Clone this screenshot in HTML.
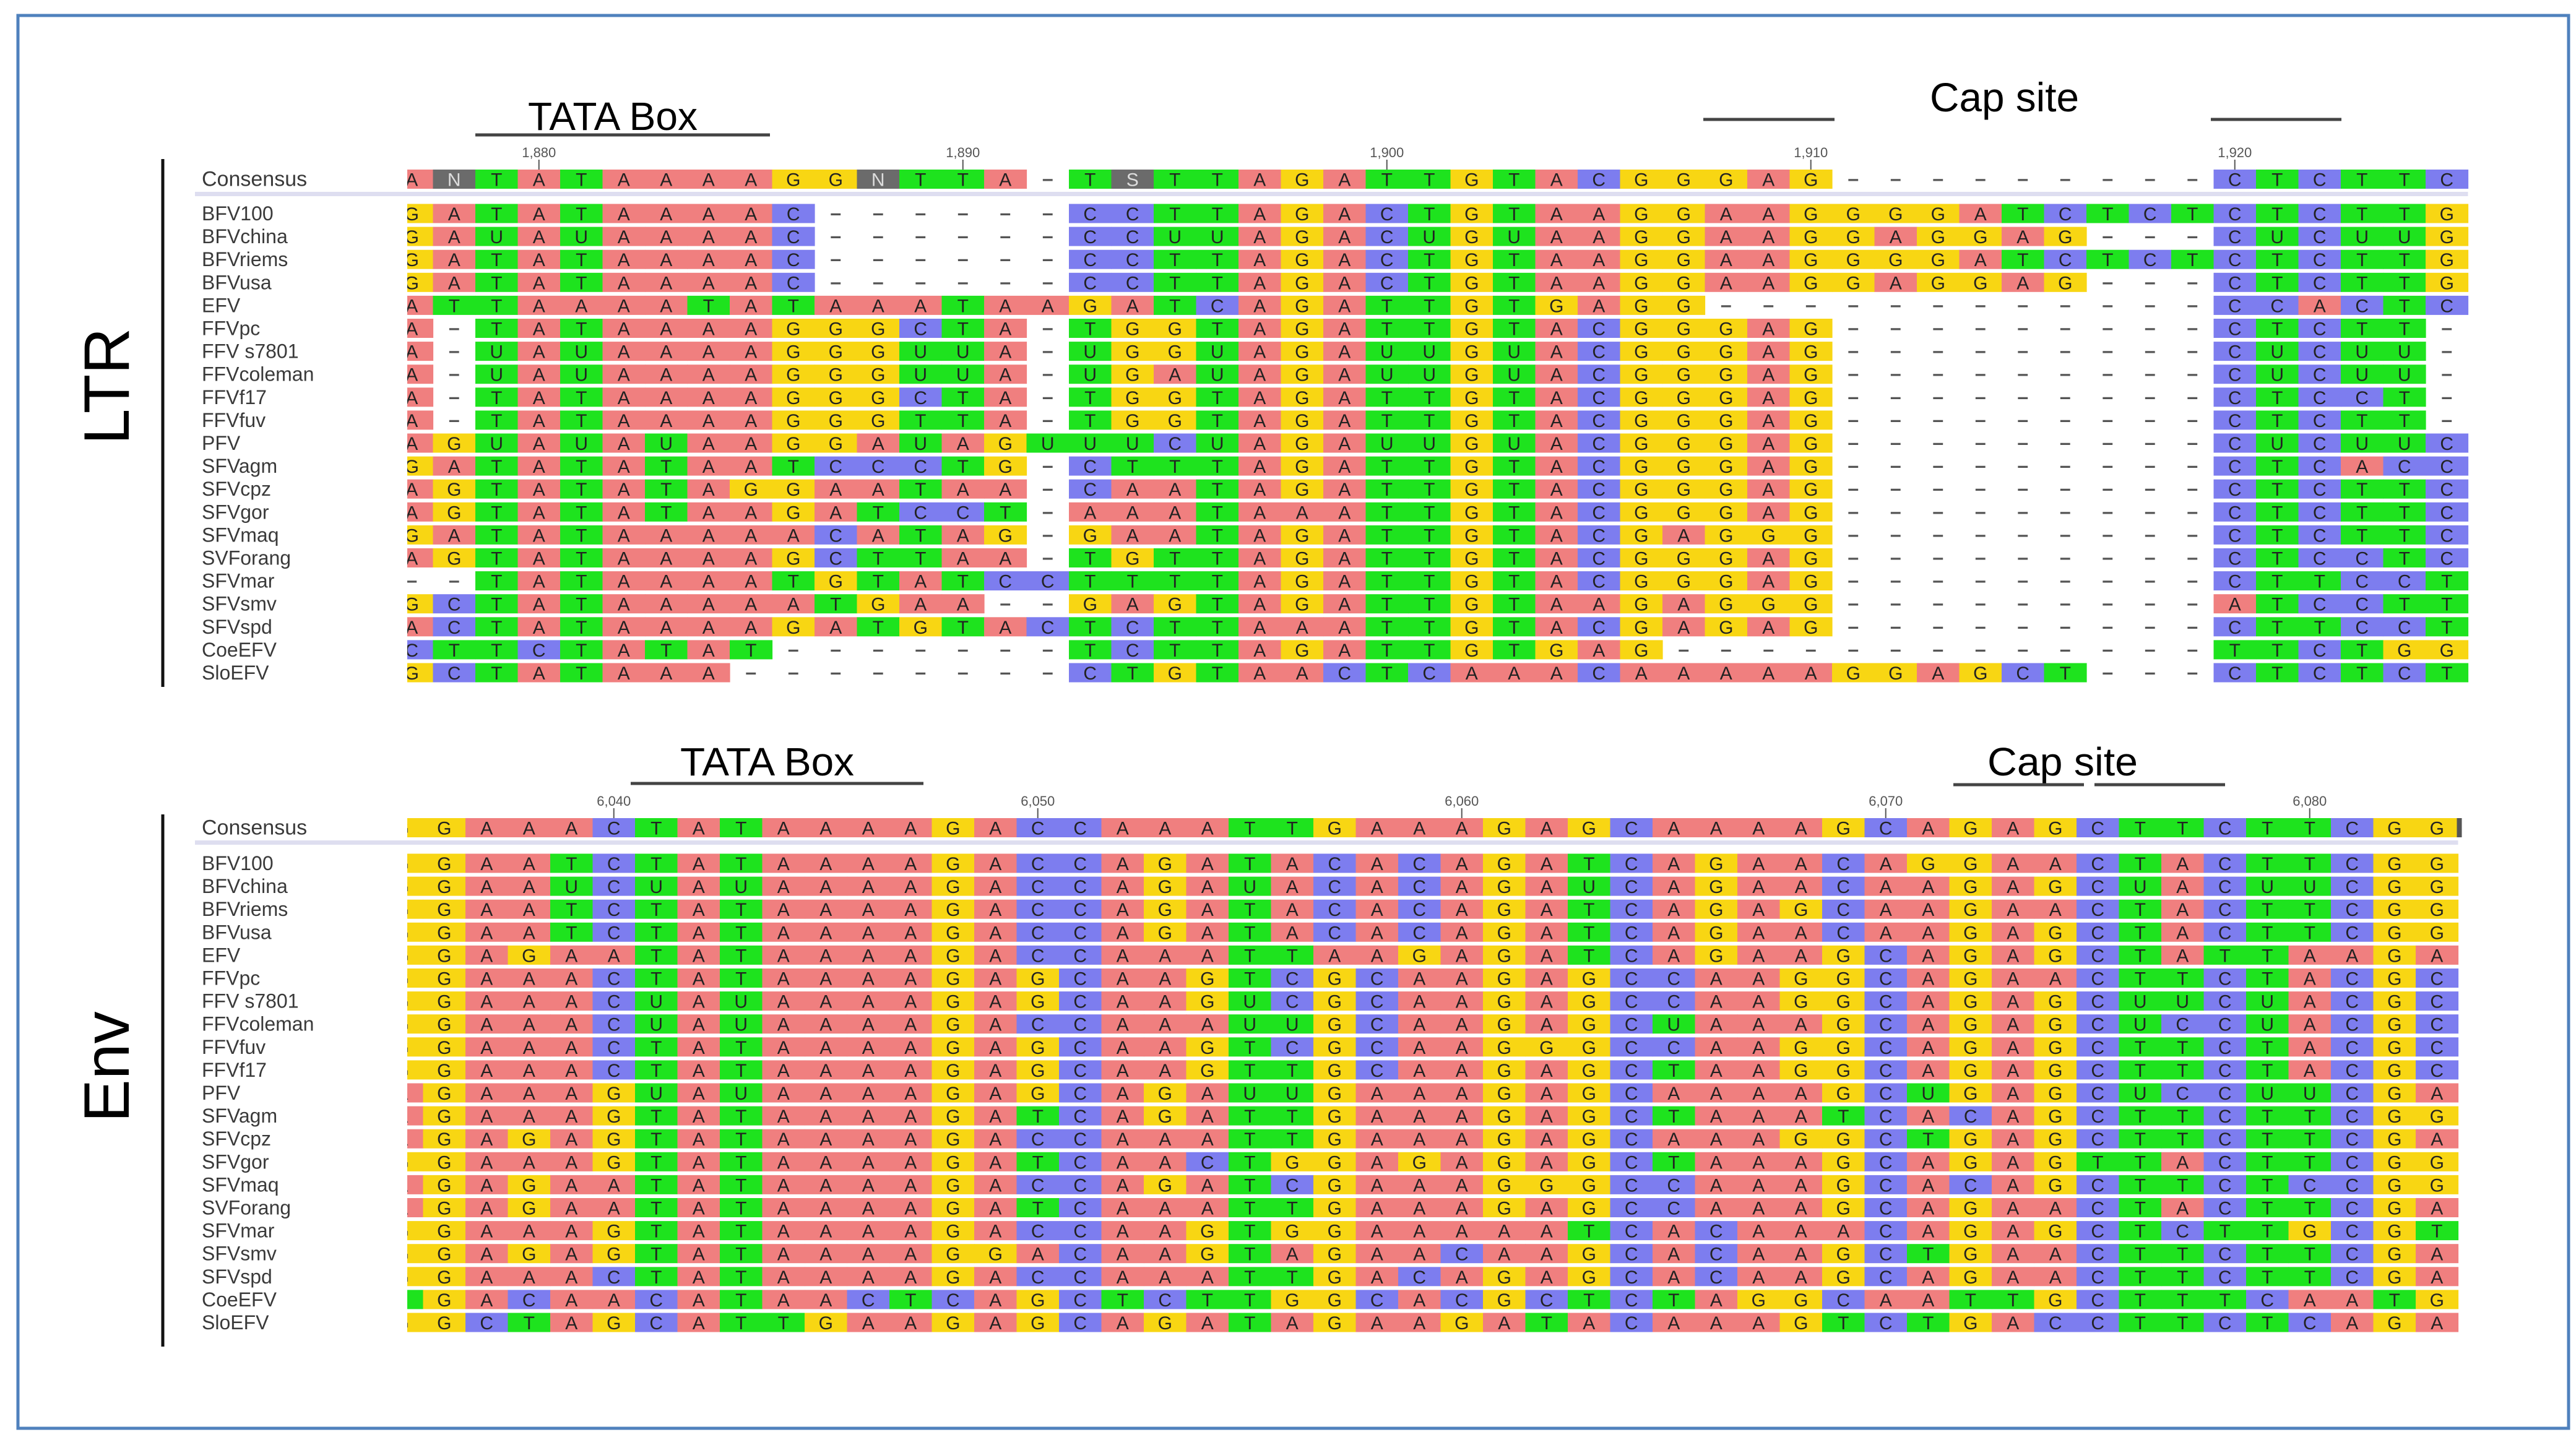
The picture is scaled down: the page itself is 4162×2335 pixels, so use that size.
<!DOCTYPE html>
<html><head><meta charset="utf-8"><title>Alignment</title>
<style>html,body{margin:0;padding:0;background:#fff}svg{display:block}</style></head>
<body>
<svg id="fig" xmlns="http://www.w3.org/2000/svg" width="4162" height="2335" viewBox="0 0 4162 2335">
<rect x="0" y="0" width="4162" height="2335" fill="#fff"/>
<rect x="29" y="25" width="4121" height="2283" fill="none" stroke="#4f81bd" stroke-width="5"/>
<defs><clipPath id="clipA"><rect x="658" y="0" width="3340" height="2335"/></clipPath></defs>
<g id="ltr"></g>
<g id="env"></g>
</svg>
<script>
const ltrNames = ["BFV100","BFVchina","BFVriems","BFVusa","EFV","FFVpc","FFV s7801","FFVcoleman","FFVf17","FFVfuv","PFV","SFVagm","SFVcpz","SFVgor","SFVmaq","SVForang","SFVmar","SFVsmv","SFVspd","CoeEFV","SloEFV"];
const ltrConsensus = "ANTATAAAAGGNTTA-TSTTAGATTGTACGGGAG---------CTCTTC";
const ltrSeqs = [
"GATATAAAAC------CCTTAGACTGTAAGGAAGGGGATCTCTCTCTTG",
"GAUAUAAAAC------CCUUAGACUGUAAGGAAGGAGGAG---CUCUUG",
"GATATAAAAC------CCTTAGACTGTAAGGAAGGGGATCTCTCTCTTG",
"GATATAAAAC------CCTTAGACTGTAAGGAAGGAGGAG---CTCTTG",
"ATTAAAATATAAATAAGATCAGATTGTGAGG------------CCACTC",
"A-TATAAAAGGGCTA-TGGTAGATTGTACGGGAG---------CTCTT-",
"A-UAUAAAAGGGUUA-UGGUAGAUUGUACGGGAG---------CUCUU-",
"A-UAUAAAAGGGUUA-UGAUAGAUUGUACGGGAG---------CUCUU-",
"A-TATAAAAGGGCTA-TGGTAGATTGTACGGGAG---------CTCCT-",
"A-TATAAAAGGGTTA-TGGTAGATTGTACGGGAG---------CTCTT-",
"AGUAUAUAAGGAUAGUUUCUAGAUUGUACGGGAG---------CUCUUC",
"GATATATAATCCCTG-CTTTAGATTGTACGGGAG---------CTCACC",
"AGTATATAGGAATAA-CAATAGATTGTACGGGAG---------CTCTTC",
"AGTATATAAGATCCT-AAATAAATTGTACGGGAG---------CTCTTC",
"GATATAAAAACATAG-GAATAGATTGTACGAGGG---------CTCTTC",
"AGTATAAAAGCTTAA-TGTTAGATTGTACGGGAG---------CTCCTC",
"--TATAAAATGTATCCTTTTAGATTGTACGGGAG---------CTTCCT",
"GCTATAAAAATGAA--GAGTAGATTGTAAGAGGG---------ATCCTT",
"ACTATAAAAGATGTACTCTTAAATTGTACGAGAG---------CTTCCT",
"CTTCTATAT-------TCTTAGATTGTGAG-------------TTCTGG",
"GCTATAAA--------CTGTAACTCAAACAAAAAGGAGCT---CTCTCT"];
const ltrTicks = ["1,880","1,890","1,900","1,910","1,920"];
const ltrTickCols = [3,13,23,33,43];

const envNames = ["BFV100","BFVchina","BFVriems","BFVusa","EFV","FFVpc","FFV s7801","FFVcoleman","FFVfuv","FFVf17","PFV","SFVagm","SFVcpz","SFVgor","SFVmaq","SVForang","SFVmar","SFVsmv","SFVspd","CoeEFV","SloEFV"];
const envConsensus = "GGAAACTATAAAAGACCAAATTGAAAGAGCAAAAGCAGAGCTTCTTCGG";
const envSeqs = [
"GGAATCTATAAAAGACCAGATACACAGATCAGAACAGGAACTACTTCGG",
"GGAAUCUAUAAAAGACCAGAUACACAGAUCAGAACAAGAGCUACUUCGG",
"GGAATCTATAAAAGACCAGATACACAGATCAGAGCAAGAACTACTTCGG",
"GGAATCTATAAAAGACCAGATACACAGATCAGAACAAGAGCTACTTCGG",
"GGAGAATATAAAAGACCAAATTAAGAGATCAGAAGCAGAGCTATTAAGA",
"GGAAACTATAAAAGAGCAAGTCGCAAGAGCCAAGGCAGAACTTCTACGC",
"GGAAACUAUAAAAGAGCAAGUCGCAAGAGCCAAGGCAGAGCUUCUACGC",
"GGAAACUAUAAAAGACCAAAUUGCAAGAGCUAAAGCAGAGCUCCUACGC",
"GGAAACTATAAAAGAGCAAGTCGCAAGGGCCAAGGCAGAGCTTCTACGC",
"GGAAACTATAAAAGAGCAAGTTGCAAGAGCTAAGGCAGAGCTTCTACGC",
"AGAAAGUAUAAAAGAGCAGAUUGAAAGAGCAAAAGCUGAGCUCCUUCGA",
"AGAAAGTATAAAAGATCAGATTGAAAGAGCTAAATCACAGCTTCTTCGG",
"AGAGAGTATAAAAGACCAAATTGAAAGAGCAAAGGCTGAGCTTCTTCGA",
"GGAAAGTATAAAAGATCAACTGGAGAGAGCTAAAGCAGAGTTACTTCGG",
"AGAGAATATAAAAGACCAGATCGAAAGGGCCAAAGCACAGCTTCTCCGG",
"AGAGAATATAAAAGATCAAATTGAAAGAGCCAAAGCAGAACTACTTCGA",
"GGAAAGTATAAAAGACCAAGTGGAAAAATCACAAACAGAGCTCTTGCGT",
"GGAGAGTATAAAAGGACAAGTAGAACAAGCACAAGCTGAACTTCTTCGA",
"GGAAACTATAAAAGACCAAATTGACAGAGCACAAGCAGAACTTCTTCGA",
"TGACAACATAACTCAGCTCTTGGCACGCTCTAGGCAATTGCTTTCAATG",
"GGCTAGCATTGAAGAGCAGATAGAAGATACAAAGTCTGACCTTCTCAGA"];
const envTicks = ["6,040","6,050","6,060","6,070","6,080"];
const envTickCols = [5,15,25,35,45];

const NS="http://www.w3.org/2000/svg";
const COLORS={A:"#f07f7f",C:"#7d7def",G:"#f8d613",T:"#1ee31e",U:"#1ee31e",N:"#6b6b6b",S:"#6b6b6b"};
function mk(tag,attrs,parent){const e=document.createElementNS(NS,tag);for(const k in attrs)e.setAttribute(k,attrs[k]);parent.appendChild(e);return e;}

function drawPanel(g,cfg){
  const colW=68.5, cellH=31, pitch=37.1;
  const x0=cfg.col0;
  const colX=i=>x0+i*colW;
  const side=mk("text",{x:0,y:0,"font-family":"Liberation Sans, sans-serif","font-size":104,fill:"#000","text-anchor":"middle",transform:`translate(${cfg.sideX},${cfg.sideY}) rotate(-90)`},g);
  
  
  side.textContent=cfg.sideText;
  const vl=mk("line",{x1:263,x2:263,y1:cfg.lineY1,y2:cfg.lineY2,stroke:"#111","stroke-width":5},g);
  
  
  cfg.ticks.forEach((t,k)=>{
    const cx=colX(cfg.tickCols[k])+colW/2;
    const tl=mk("text",{x:cx,y:cfg.consTop-20,"font-family":"Liberation Sans, sans-serif","font-size":22,fill:"#555","text-anchor":"middle"},g);
    
    
    tl.textContent=t;
    const tk=mk("line",{x1:cx,x2:cx,y1:cfg.consTop-16,y2:cfg.consTop+2,stroke:"#555","stroke-width":2},g);
    
    
  });
  const sep=mk("rect",{x:315,y:cfg.consTop+cellH+5,width:colX(49)-315,height:7,fill:"#dedef0"},g);
  
  
  const clip=mk("g",{"clip-path":"url(#clipA)"},g);
  function row(name,seq,top,isCons){
    const lab=mk("text",{x:326,y:top+cellH/2+11,"font-family":"Liberation Sans, sans-serif","font-size":isCons?34:32,fill:"#3a3a3a"},g);
    
    
    lab.textContent=name;
    const rg=mk("g",{},clip);
    
    
    for(let i=0;i<seq.length;i++){
      const ch=seq[i];
      const x=colX(i);
      if(ch!=="-"){
        const r=mk("rect",{x:x,y:top,width:colW+0.6,height:cellH,fill:COLORS[ch]||"#ccc"},rg);
        
        
        const t=mk("text",{x:x+colW/2,y:top+cellH/2+11,"font-family":"Liberation Sans, sans-serif","font-size":30,fill:(ch==="N"||ch==="S")?"#ddd":"#222","text-anchor":"middle"},rg);
        
        
        t.textContent=ch;
      } else {
        const t=mk("text",{x:x+colW/2,y:top+cellH/2+10,"font-family":"Liberation Sans, sans-serif","font-size":32,"font-weight":"bold",fill:"#555","text-anchor":"middle"},rg);
        
        
        t.textContent="\u2013";
      }
    }
  }
  row("Consensus",cfg.cons,cfg.consTop,true);
  cfg.names.forEach((n,i)=>row(n,cfg.seqs[i],cfg.rowTop+i*pitch,false));
  if(cfg.endBar){
    const eb=mk("rect",{x:colX(49)-2,y:cfg.consTop,width:8,height:cellH,fill:"#555"},g);
    
    
  }
}
function annot(g,text,x,y,size,len,name){
  const t=mk("text",{x:x,y:y,"font-family":"Liberation Sans, sans-serif","font-size":size,fill:"#000",textLength:len,lengthAdjust:"spacingAndGlyphs"},g);
  
  
  t.textContent=text;
}
function uline(g,x1,x2,y,name){
  const l=mk("line",{x1:x1,x2:x2,y1:y,y2:y,stroke:"#444","stroke-width":5},g);
  
  
}
const gl=document.getElementById("ltr"), ge=document.getElementById("env");
drawPanel(gl,{col0:631,consTop:274,rowTop:329.5,cons:ltrConsensus,seqs:ltrSeqs,names:ltrNames,ticks:ltrTicks,tickCols:ltrTickCols,sideText:"LTR",sideX:208,sideY:624,sideName:"ltr-side-label",lineY1:257,lineY2:1110,endBar:false});
drawPanel(ge,{col0:615,consTop:1322,rowTop:1379.5,cons:envConsensus,seqs:envSeqs,names:envNames,ticks:envTicks,tickCols:envTickCols,sideText:"Env",sideX:208,sideY:1724,sideName:"env-side-label",lineY1:1316,lineY2:2176,endBar:true});
annot(gl,"TATA Box",853,210,64,274,"tata-box-title");
uline(gl,768,1244,218,"tata-box-underline");
annot(gl,"Cap site",3118,180,66,241,"cap-site-title");
uline(gl,2752,2964,193,"cap-site-line-left");
uline(gl,3572,3783,193,"cap-site-line-right");
annot(ge,"TATA Box",1099,1253,64,281,"tata-box-title-env");
uline(ge,1019,1492,1266,"tata-box-underline-env");
annot(ge,"Cap site",3211,1253,64,243,"cap-site-title-env");
uline(ge,3156,3367,1268,"cap-site-line-left-env");
uline(ge,3384,3595,1268,"cap-site-line-right-env");
</script>
</body></html>
